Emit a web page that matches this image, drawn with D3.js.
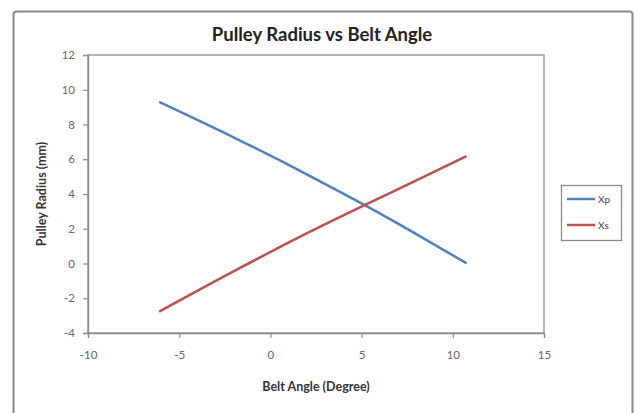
<!DOCTYPE html>
<html><head><meta charset="utf-8">
<script src="https://cdn.jsdelivr.net/npm/d3@7"></script>
<style>html,body{margin:0;padding:0;background:#fff;}svg{display:block;}</style>
</head><body>
<script>
const title = "Pulley Radius vs Belt Angle";
const xTitle = "Belt Angle (Degree)";
const yTitle = "Pulley Radius  (mm)";
const seriesNames = ["Xp", "Xs"];
const beltAngle = [-6.1, -2, 2.2, 5.1, 8, 10.75];
const xp = [9.3, 7.25, 5.02, 3.4, 1.69, 0.01];
const xs = [-2.77, -0.44, 1.85, 3.33, 4.78, 6.18];
const xTicks = [-10, -5, 0, 5, 10, 15];
const yTicks = [-4, -2, 0, 2, 4, 6, 8, 10, 12];
const colors = ["#4F81BD", "#C0504D"];

const W = 637, H = 413;
const svg = d3.select("body").append("svg").attr("width", W).attr("height", H);
const font = "Lato, 'Open Sans', sans-serif";

// outer chart border
svg.append("rect").attr("x", 13.5).attr("y", 11.5).attr("width", 619).attr("height", 420)
  .attr("rx", 3).attr("fill", "#fff").attr("stroke", "#8a8a8a").attr("stroke-width", 2);

const L = 88, R = 544, T = 55, B = 333;
const x = d3.scaleLinear().domain([-10, 15]).range([L, R]);
const y = d3.scaleLinear().domain([-4, 12]).range([B, T]);

// plot area border
svg.append("rect").attr("x", L).attr("y", T).attr("width", R - L).attr("height", B - T)
  .attr("fill", "none").attr("stroke", "#8c8c8c").attr("stroke-width", 1.3);

const fmt = d => String(d);
const xAxis = svg.append("g").attr("transform", `translate(0,${B})`)
  .call(d3.axisBottom(x).tickValues(xTicks).tickSize(5).tickPadding(13).tickFormat(fmt));
const yAxis = svg.append("g").attr("transform", `translate(${L},0)`)
  .call(d3.axisLeft(y).tickValues(yTicks).tickSize(5).tickPadding(8).tickFormat(fmt));
[xAxis, yAxis].forEach(g => {
  g.select(".domain").attr("stroke", "#8c8c8c").attr("stroke-width", 1.3);
  g.selectAll(".tick line").attr("stroke", "#8c8c8c").attr("stroke-width", 1.2);
  g.selectAll(".tick text").attr("fill", "#666").attr("font-family", font).attr("font-size", 11.5);
});

const data = seriesNames.map((n, i) => ({
  name: n, color: colors[i],
  pts: beltAngle.map((a, j) => [a, i === 0 ? xp[j] : xs[j]])
}));
const line = d3.line().x(d => x(d[0])).y(d => y(d[1])).curve(d3.curveMonotoneX);
svg.selectAll(".series").data(data).enter().append("path")
  .attr("d", d => line(d.pts)).attr("fill", "none")
  .attr("stroke", d => d.color).attr("stroke-width", 2.5).attr("stroke-linejoin", "round");

// title
svg.append("text").attr("x", 322).attr("y", 41).attr("text-anchor", "middle")
  .attr("font-family", font).attr("font-weight", "bold").attr("font-size", 18.5).attr("fill", "#222").text(title);
svg.append("text").attr("x", 316).attr("y", 391).attr("text-anchor", "middle")
  .attr("font-family", font).attr("font-weight", "bold").attr("font-size", 12.5).attr("fill", "#333").text(xTitle);
svg.append("text").attr("transform", `translate(46,${(T + B) / 2}) rotate(-90)`).attr("text-anchor", "middle")
  .attr("font-family", font).attr("font-weight", "bold").attr("font-size", 12.5).attr("fill", "#333").text(yTitle);

// legend
const lg = svg.append("g");
lg.append("rect").attr("x", 561.5).attr("y", 185.5).attr("width", 60).attr("height", 55)
  .attr("fill", "#fff").attr("stroke", "#8c8c8c").attr("stroke-width", 1.3);
data.forEach((d, i) => {
  const yy = 199 + i * 26;
  lg.append("line").attr("x1", 567).attr("x2", 595).attr("y1", yy).attr("y2", yy)
    .attr("stroke", d.color).attr("stroke-width", 2.5);
  lg.append("text").attr("x", 598).attr("y", yy + 3.5).attr("font-family", font)
    .attr("font-size", 10).attr("fill", "#444").text(d.name);
});
</script>
</body></html>
